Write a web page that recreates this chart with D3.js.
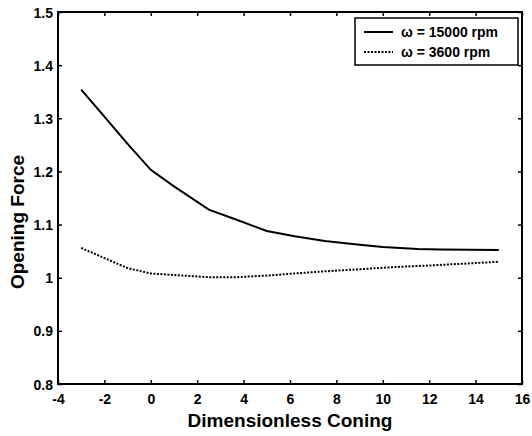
<!DOCTYPE html>
<html>
<head>
<meta charset="utf-8">
<script src="https://cdn.jsdelivr.net/npm/d3@7/dist/d3.min.js"></script>
<style>
  html, body { margin: 0; padding: 0; background: #fff; }
  svg { display: block; font-family: "Liberation Sans", Arial, sans-serif; }
</style>
</head>
<body>
<svg id="chart" width="532" height="436"></svg>
<script>
// ---- data ----
const coningHigh = [-3, -2, -1, 0, 1, 2.5, 3.7, 5, 6.2, 7.5, 9, 10, 11.5, 12.5, 15];
const forceHigh  = [1.354, 1.303, 1.252, 1.203, 1.172, 1.128, 1.109, 1.088, 1.078, 1.069, 1.062, 1.058, 1.054, 1.053, 1.052];
const coningLow  = [-3, -2, -1, 0, 1, 2.5, 3.7, 5, 6.2, 7.5, 9, 10.5, 12, 13.3, 15];
const forceLow   = [1.056, 1.037, 1.018, 1.008, 1.005, 1.001, 1.001, 1.004, 1.008, 1.012, 1.016, 1.020, 1.023, 1.026, 1.030];
const xTicks = [-4, -2, 0, 2, 4, 6, 8, 10, 12, 14, 16];
const xTickLabels = ["-4", "-2", "0", "2", "4", "6", "8", "10", "12", "14", "16"];
const yTicks = [0.8, 0.9, 1.0, 1.1, 1.2, 1.3, 1.4, 1.5];
const yTickLabels = ["0.8", "0.9", "1", "1.1", "1.2", "1.3", "1.4", "1.5"];
const seriesNames = ["\u03c9 = 15000 rpm", "\u03c9 = 3600 rpm"];
const xTitle = "Dimensionless Coning";
const yTitle = "Opening Force";

// ---- layout ----
const L = 58, R = 522, T = 12, B = 384;
const svg = d3.select("#chart");
const x = d3.scaleLinear().domain([-4, 16]).range([L, R]);
const y = d3.scaleLinear().domain([0.8, 1.5]).range([B, T]);

// plot box
svg.append("rect").attr("x", L).attr("y", T).attr("width", R - L).attr("height", B - T)
  .attr("fill", "none").attr("stroke", "#000").attr("stroke-width", 2);

function styleAxis(g) {
  g.select(".domain").remove();
  g.attr("font-family", null).attr("font-size", null);
  g.selectAll(".tick line").attr("stroke", "#000").attr("stroke-width", 1.5);
}

// bottom axis
const gx = svg.append("g").attr("transform", `translate(0,${B})`)
  .call(d3.axisBottom(x).tickValues(xTicks).tickSizeInner(-4).tickSizeOuter(0).tickFormat(""))
  .call(styleAxis);
gx.selectAll(".tick").append("text")
  .attr("y", 20).attr("text-anchor", "middle")
  .attr("font-size", 14).attr("font-weight", "bold").attr("fill", "#000")
  .text((d, i) => xTickLabels[i]);
// top ticks
svg.append("g").attr("transform", `translate(0,${T})`)
  .call(d3.axisTop(x).tickValues(xTicks).tickSizeInner(-4).tickSizeOuter(0).tickFormat(""))
  .call(styleAxis);
// left axis
const gy = svg.append("g").attr("transform", `translate(${L},0)`)
  .call(d3.axisLeft(y).tickValues(yTicks).tickSizeInner(-4).tickSizeOuter(0).tickFormat(""))
  .call(styleAxis);
gy.selectAll(".tick").append("text")
  .attr("x", -5).attr("y", 5).attr("text-anchor", "end")
  .attr("font-size", 14).attr("font-weight", "bold").attr("fill", "#000")
  .text((d, i) => yTickLabels[i]);
// right ticks
svg.append("g").attr("transform", `translate(${R},0)`)
  .call(d3.axisRight(y).tickValues(yTicks).tickSizeInner(-4).tickSizeOuter(0).tickFormat(""))
  .call(styleAxis);

// lines
const line = d3.line().x(d => x(d[0])).y(d => y(d[1]));
svg.append("path").datum(coningHigh.map((c, i) => [c, forceHigh[i]]))
  .attr("d", line).attr("fill", "none").attr("stroke", "#000").attr("stroke-width", 2);
svg.append("path").datum(coningLow.map((c, i) => [c, forceLow[i]]))
  .attr("d", line).attr("fill", "none").attr("stroke", "#000").attr("stroke-width", 2)
  .attr("stroke-dasharray", "2,1.5");

// axis titles
svg.append("text").attr("x", (L + R) / 2).attr("y", 427).attr("text-anchor", "middle")
  .attr("font-size", 19).attr("font-weight", "bold").text(xTitle);
svg.append("text").attr("transform", `translate(24,222) rotate(-90)`).attr("text-anchor", "middle")
  .attr("font-size", 19).attr("font-weight", "bold").text(yTitle);

// legend
const lg = svg.append("g");
lg.append("rect").attr("x", 355).attr("y", 18).attr("width", 163).attr("height", 47)
  .attr("fill", "#fff").attr("stroke", "#000").attr("stroke-width", 1.5);
const dashes = [null, "2,1.5"];
seriesNames.forEach((name, i) => {
  const yy = 32 + i * 20;
  const l = lg.append("line").attr("x1", 364).attr("x2", 393).attr("y1", yy).attr("y2", yy)
    .attr("stroke", "#000").attr("stroke-width", 2);
  if (dashes[i]) l.attr("stroke-dasharray", dashes[i]);
  lg.append("text").attr("x", 401).attr("y", yy + 5).attr("font-size", 14).attr("font-weight", "bold")
    .text(name);
});
</script>
</body>
</html>
